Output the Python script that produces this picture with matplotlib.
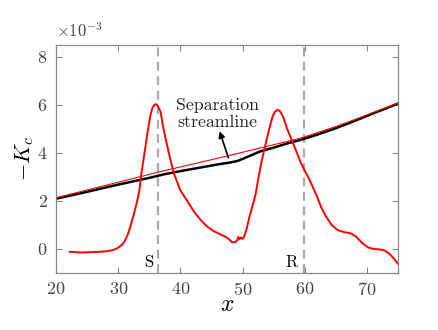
import matplotlib
matplotlib.use("Agg")
import matplotlib.pyplot as plt

plt.rcParams["font.family"] = "cmr10"
plt.rcParams["mathtext.fontset"] = "cm"
plt.rcParams["axes.formatter.use_mathtext"] = True

# curvature along the wall, in units of 1e-3
curv_x = [22.2, 23, 24, 25, 26, 27, 28, 29, 29.8, 30.5, 31, 31.5, 32, 32.5, 33,
          33.4, 33.7, 34.1, 34.5, 34.9, 35.2, 35.5, 35.8, 36.05, 36.3, 36.8,
          37.15, 37.7, 38.3, 39.0, 40.0, 41.1, 42.1, 43.2, 44.2, 45.3, 46.3,
          47.3, 47.9, 48.3, 48.8, 49.1, 49.3, 49.5, 49.7, 50.0, 50.3, 50.7,
          51.1, 51.6, 52.1, 52.5, 53.0, 53.6, 54.25, 54.8, 55.2, 55.6, 56.0,
          56.5, 57.2, 58.3, 59.35, 60.0, 60.7, 61.9, 62.6, 63.4, 64.3, 65.3,
          66.3, 67.4, 68.3, 69.2, 70.1, 71.0, 72.0, 72.8, 73.6, 74.3, 75.0]
curv_y = [-0.12, -0.13, -0.15, -0.14, -0.13, -0.12, -0.1, -0.06, 0.02, 0.15,
          0.3, 0.58, 0.98, 1.45, 1.95, 2.43, 3.11, 3.8, 4.49, 5.17, 5.6, 5.88,
          6.0, 6.03, 5.98, 5.72, 5.17, 4.49, 3.8, 3.11, 2.43, 2.0, 1.58, 1.22,
          0.95, 0.75, 0.62, 0.5, 0.38, 0.28, 0.28, 0.35, 0.5, 0.4, 0.48, 0.42,
          0.55, 0.9, 1.35, 1.8, 2.3, 2.91, 3.59, 4.28, 4.97, 5.51, 5.72, 5.79,
          5.74, 5.51, 4.97, 4.28, 3.59, 3.25, 2.91, 2.22, 1.75, 1.35, 1.0,
          0.78, 0.7, 0.65, 0.5, 0.25, 0.07, 0.0, -0.02, -0.06, -0.2, -0.4,
          -0.62]

# separation streamline curvature
stream_x = [20, 25, 30, 35, 37.4, 40, 43, 46, 48, 49.1, 50, 51, 52, 52.9, 55,
            57, 59.4, 62, 65, 68, 71, 73, 75]
stream_y = [2.09, 2.38, 2.68, 2.96, 3.11, 3.24, 3.38, 3.52, 3.6, 3.66, 3.75,
            3.86, 3.97, 4.07, 4.22, 4.38, 4.55, 4.76, 5.03, 5.33, 5.65, 5.85,
            6.06]

# thin red reference line
ref_x = [20, 30, 36.8, 47.5, 57.7, 59.4, 65, 70, 75]
ref_y = [2.13, 2.78, 3.22, 3.87, 4.51, 4.62, 5.1, 5.58, 6.08]

sep_x = 36.45
reat_x = 59.8

fig = plt.figure(figsize=(4.38, 3.3), dpi=100)
ax = fig.add_axes([0.128, 0.173, 0.781, 0.691])

gray = "#888888"
ax.axvline(sep_x, color="#aaaaaa", lw=1.6, ls=(0, (4, 2.5)), zorder=1)
ax.axvline(reat_x, color="#aaaaaa", lw=1.6, ls=(0, (4, 2.5)), zorder=1)

ax.plot(stream_x, stream_y, color="black", lw=1.8, zorder=2)
ax.plot(ref_x, ref_y, color="red", lw=0.8, zorder=3)
ax.plot(curv_x, curv_y, color="red", lw=1.4, zorder=4)

ax.annotate("", xy=(46.3, 4.9), xytext=(47.7, 3.8),
            arrowprops=dict(arrowstyle="-|>", color="black", lw=1.2,
                            mutation_scale=9, shrinkA=0, shrinkB=0), zorder=5)
ax.text(45.9, 5.64, "Separation\nstreamline", fontsize=12.8, ha="center",
        va="center", linespacing=1.15, color="#222222")

ax.text(35.6, -0.55, "S", fontsize=12, ha="right", va="center")
ax.text(58.8, -0.55, "R", fontsize=12, ha="right", va="center")

ax.set_xlim(20, 75)
ax.set_ylim(-1, 8.5)
ax.set_xticks([20, 30, 40, 50, 60, 70])
ax.set_yticks([0, 2, 4, 6, 8])
ax.tick_params(direction="in", top=True, right=True, length=4, color=gray,
               labelsize=13, labelcolor="#444444", pad=6)
for spine in ax.spines.values():
    spine.set_color(gray)
    spine.set_linewidth(0.9)

ax.set_xlabel("$x$", fontsize=17, labelpad=-3)
ax.set_ylabel("$-K_c$", fontsize=16, labelpad=1)
ax.text(0.0, 1.02, r"$\times10^{-3}$", transform=ax.transAxes, fontsize=12,
        color="#444444", ha="left", va="bottom")

fig.savefig("out.png", dpi=100)
